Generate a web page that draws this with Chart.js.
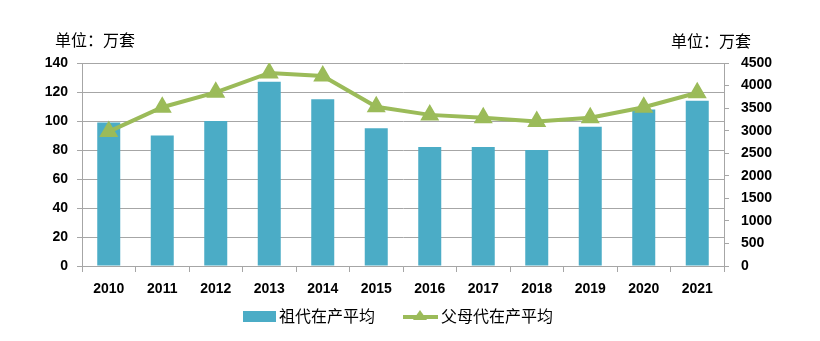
<!DOCTYPE html>
<html>
<head>
<meta charset="utf-8">
<script src="https://cdn.jsdelivr.net/npm/chart.js@4"></script>
<style>
  html, body { margin: 0; padding: 0; background: #fff; }
  #wrap { width: 820px; height: 341px; }
</style>
</head>
<body>
<div id="wrap"><canvas id="myChart"></canvas></div>
<script>
var years = ['2010', '2011', '2012', '2013', '2014', '2015', '2016', '2017', '2018', '2019', '2020', '2021'];
// 祖代在产平均 (左轴, 万套)
var grandParent = [99, 90, 100, 127, 115, 95, 82, 82, 80, 96, 108, 114];
// 父母代在产平均 (右轴, 万套)
var parentStock = [2980, 3520, 3850, 4280, 4210, 3530, 3350, 3285, 3205, 3285, 3520, 3840];
var unitText = '单位：万套';

var barColor = '#4BACC6';
var lineColor = '#9BBB59';
var gridColor = '#A6A6A6';
var tickFont = { family: 'Liberation Sans', size: 14, weight: 'bold' };
var cjkFont = '16px "Noto Sans CJK SC"';

// unit captions above both axes and a hand drawn legend under the x axis
var extras = {
  id: 'extras',
  afterDraw: function (chart) {
    var ctx = chart.ctx;
    ctx.save();
    ctx.fillStyle = '#000';
    ctx.font = cjkFont;
    ctx.textBaseline = 'middle';
    ctx.textAlign = 'left';
    ctx.fillText(unitText, 55, 40);
    ctx.textAlign = 'right';
    ctx.fillText(unitText, 751, 41);

    var ly = 316;
    var names = chart.data.datasets.map(function (d) { return d.label; });
    ctx.textAlign = 'left';
    // bar entry
    ctx.fillStyle = barColor;
    ctx.fillRect(243, ly - 5, 33, 11);
    ctx.fillStyle = '#000';
    ctx.fillText(names[0], 279, ly);
    // line entry
    ctx.strokeStyle = lineColor;
    ctx.lineWidth = 4;
    ctx.beginPath();
    ctx.moveTo(403, ly + 1);
    ctx.lineTo(438, ly + 1);
    ctx.stroke();
    ctx.fillStyle = lineColor;
    ctx.beginPath();
    ctx.moveTo(420, ly - 6);
    ctx.lineTo(427, ly + 4);
    ctx.lineTo(413, ly + 4);
    ctx.closePath();
    ctx.fill();
    ctx.fillStyle = '#000';
    ctx.fillText(names[1], 441, ly);
    ctx.restore();
  }
};

var ctx = document.getElementById('myChart').getContext('2d');
var chart = new Chart(ctx, {
  type: 'bar',
  data: {
    labels: years,
    datasets: [{
      type: 'bar',
      label: '祖代在产平均',
      data: grandParent,
      backgroundColor: barColor,
      borderWidth: 0,
      barPercentage: 0.86,
      categoryPercentage: 0.5,
      yAxisID: 'y',
      order: 2
    }, {
      type: 'line',
      label: '父母代在产平均',
      data: parentStock,
      borderColor: lineColor,
      backgroundColor: lineColor,
      borderWidth: 4,
      pointStyle: 'triangle',
      pointRadius: 7,
      pointHoverRadius: 7,
      tension: 0,
      yAxisID: 'y1',
      order: 1
    }]
  },
  options: {
    responsive: true,
    maintainAspectRatio: false,
    animation: false,
    layout: { padding: { top: 63, bottom: 36, left: 0, right: 0 } },
    plugins: { legend: { display: false }, tooltip: { enabled: false } },
    scales: {
      x: {
        offset: true,
        grid: { offset: true, drawOnChartArea: false, color: gridColor, tickLength: 6 },
        border: { color: gridColor },
        ticks: { color: '#000', font: tickFont, padding: 9, maxRotation: 0 },
        afterFit: function (s) { s.height = 39; }
      },
      y: {
        position: 'left',
        min: 0, max: 140,
        ticks: { stepSize: 20, color: '#000', font: tickFont, padding: 9 },
        grid: { color: gridColor, tickLength: 5 },
        border: { color: gridColor },
        afterFit: function (s) { s.width = 82; }
      },
      y1: {
        position: 'right',
        min: 0, max: 4500,
        ticks: {
          stepSize: 500, color: '#000', font: tickFont, padding: 12,
          callback: function (v) { return String(v); }
        },
        grid: { drawOnChartArea: false, color: gridColor, tickLength: 5 },
        border: { color: gridColor },
        afterFit: function (s) { s.width = 96; }
      }
    }
  },
  plugins: [extras]
});
</script>
</body>
</html>
